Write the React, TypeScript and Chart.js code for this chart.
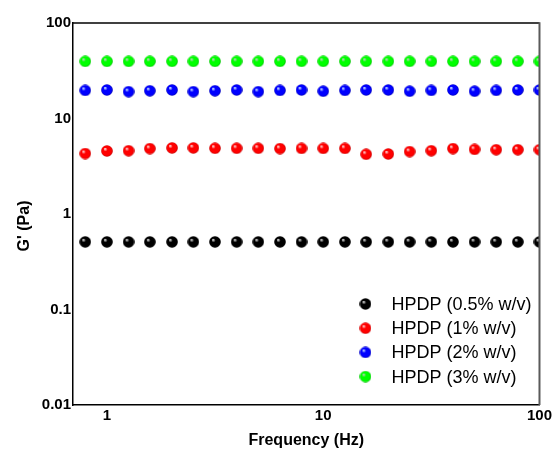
import React, { useEffect, useRef } from "react";
import { Chart, registerables } from "chart.js";

Chart.register(...registerables);

const frequencies = [0.794, 1, 1.26, 1.58, 2, 2.51, 3.16, 3.98, 5.01, 6.31, 7.94, 10, 12.6, 15.8, 20, 25.1, 31.6, 39.8, 50.1, 63.1, 79.4, 100];
const seriesLabels = ["HPDP (0.5% w/v)", "HPDP (1% w/v)", "HPDP (2% w/v)", "HPDP (3% w/v)"];
const g05 = [0.51, 0.51, 0.51, 0.51, 0.51, 0.51, 0.51, 0.51, 0.51, 0.51, 0.51, 0.51, 0.51, 0.51, 0.51, 0.51, 0.51, 0.51, 0.51, 0.51, 0.51, 0.51];
const g1 = [4.3, 4.57, 4.6, 4.84, 4.92, 4.92, 4.88, 4.88, 4.88, 4.84, 4.86, 4.86, 4.86, 4.22, 4.25, 4.5, 4.6, 4.84, 4.75, 4.71, 4.71, 4.71];
const g2 = [19.7, 19.9, 19.1, 19.5, 19.9, 19.1, 19.5, 19.9, 19.1, 19.7, 19.9, 19.3, 19.7, 19.9, 19.9, 19.3, 19.7, 19.9, 19.3, 19.7, 19.9, 19.9];
const g3 = [39.7, 39.7, 39.7, 39.7, 39.7, 39.7, 39.7, 39.7, 39.7, 39.7, 39.7, 39.7, 39.7, 39.7, 39.7, 39.7, 39.7, 39.7, 39.7, 39.7, 39.7, 39.7];
const xTicks = [1, 10, 100];
const yTicks = [0.01, 0.1, 1, 10, 100];
const xTitle = "Frequency (Hz)";
const yTitle = "G' (Pa)";

const FONT = "'Liberation Sans', Arial, sans-serif";

type SphereColors = { base: string; dark: string; hl: string };
const sphereColors: SphereColors[] = [
  { base: "#000000", dark: "#000000", hl: "#e0e0e0" },
  { base: "#ff0000", dark: "#c80000", hl: "#ffe0e0" },
  { base: "#0000ff", dark: "#0000b8", hl: "#d0e8ff" },
  { base: "#00ff00", dark: "#00c000", hl: "#cccccc" },
];

function makeSphere(col: SphereColors, r: number): HTMLCanvasElement {
  const size = 12;
  const c = document.createElement("canvas");
  c.width = size;
  c.height = size;
  const ctx = c.getContext("2d")!;
  const cx = size / 2;
  const cy = size / 2;
  const g = ctx.createRadialGradient(cx - r * 0.35, cy - r * 0.38, r * 0.05, cx, cy, r);
  g.addColorStop(0, col.hl);
  g.addColorStop(0.32, col.base);
  g.addColorStop(0.8, col.base);
  g.addColorStop(1, col.dark);
  ctx.fillStyle = g;
  ctx.beginPath();
  ctx.arc(cx, cy, r, 0, Math.PI * 2);
  ctx.fill();
  return c;
}

export default function App() {
  const ref = useRef<HTMLCanvasElement | null>(null);

  useEffect(() => {
    document.body.style.margin = "0";
    const canvas = ref.current;
    if (!canvas) return;
    const spheres = sphereColors.map((c) => makeSphere(c, 5.8));
    const seriesValues = [g05, g1, g2, g3];

    const datasets = seriesValues.map((vals, i) => ({
      label: seriesLabels[i],
      data: frequencies.map((f, j) => ({ x: f, y: vals[j] })),
      pointStyle: spheres[i] as any,
      pointRadius: 6,
      showLine: false,
      clip: 0,
    }));

    const framePlugin = {
      id: "frame",
      afterDatasetsDraw(chart: any) {
        const { ctx, chartArea } = chart;
        const { right, left, top, bottom } = chartArea;
        ctx.save();
        ctx.strokeStyle = "#000";
        ctx.lineWidth = 1.5;
        ctx.beginPath();
        ctx.moveTo(left, top);
        ctx.lineTo(right, top);
        ctx.stroke();
        ctx.strokeStyle = "#5a5a5a";
        ctx.lineWidth = 2;
        ctx.beginPath();
        ctx.moveTo(right, top - 0.75);
        ctx.lineTo(right, bottom);
        ctx.stroke();

        // y-axis title
        ctx.fillStyle = "#000";
        ctx.font = `bold 16px ${FONT}`;
        ctx.textAlign = "center";
        ctx.textBaseline = "middle";
        ctx.translate(25, 226);
        ctx.rotate(-Math.PI / 2);
        ctx.fillText(yTitle, 0, 0);
        ctx.restore();

        // legend
        ctx.save();
        ctx.font = `18px ${FONT}`;
        ctx.fillStyle = "#000";
        ctx.textAlign = "left";
        ctx.textBaseline = "middle";
        const rows = chart.data.datasets;
        const x0 = right - 174;
        const y0 = bottom - 101;
        const rowH = 24.2;
        rows.forEach((ds: any, i: number) => {
          const y = y0 + i * rowH;
          const img = spheres[i];
          ctx.drawImage(img, x0 - img.width / 2, y - img.height / 2);
          ctx.fillText(ds.label, x0 + 26, y + 1);
        });
        ctx.restore();
      },
    };

    const tickFont = { family: FONT, size: 15, weight: "bold" as const };

    const chart = new Chart(canvas, {
      type: "scatter",
      data: { datasets: datasets as any },
      options: {
        animation: false,
        responsive: false,
        events: [],
        layout: { padding: { left: 0, right: 13, top: 23, bottom: 0 } },
        plugins: { legend: { display: false }, tooltip: { enabled: false } },
        scales: {
          x: {
            type: "logarithmic",
            min: 0.697,
            max: 100,
            afterBuildTicks: (s: any) => {
              s.ticks = xTicks.map((v) => ({ value: v }));
            },
            afterFit: (s: any) => {
              s.height = 47;
            },
            grid: { display: false, drawTicks: false },
            border: { display: true, color: "#000", width: 1.5 },
            ticks: {
              callback: (v: any) => String(v),
              font: tickFont,
              color: "#000",
              padding: 2,
              maxRotation: 0,
              autoSkip: false,
            },
            title: {
              display: true,
              text: xTitle,
              font: { family: FONT, size: 16, weight: "bold" },
              color: "#000",
              padding: { top: 0, bottom: 2 },
            },
          },
          y: {
            type: "logarithmic",
            min: 0.01,
            max: 100,
            afterBuildTicks: (s: any) => {
              s.ticks = yTicks.map((v) => ({ value: v }));
            },
            afterFit: (s: any) => {
              s.width = 73;
            },
            grid: { display: false, drawTicks: false },
            border: { display: true, color: "#000", width: 1.5 },
            ticks: {
              callback: (v: any) => String(v),
              font: tickFont,
              color: "#000",
              padding: 2,
              autoSkip: false,
            },
            title: { display: false },
          },
        },
      },
      plugins: [framePlugin],
    });

    return () => chart.destroy();
  }, []);

  return (
    <div style={{ width: 554, height: 452 }}>
      <canvas ref={ref} width={554} height={452} style={{ display: "block" }} />
    </div>
  );
}
